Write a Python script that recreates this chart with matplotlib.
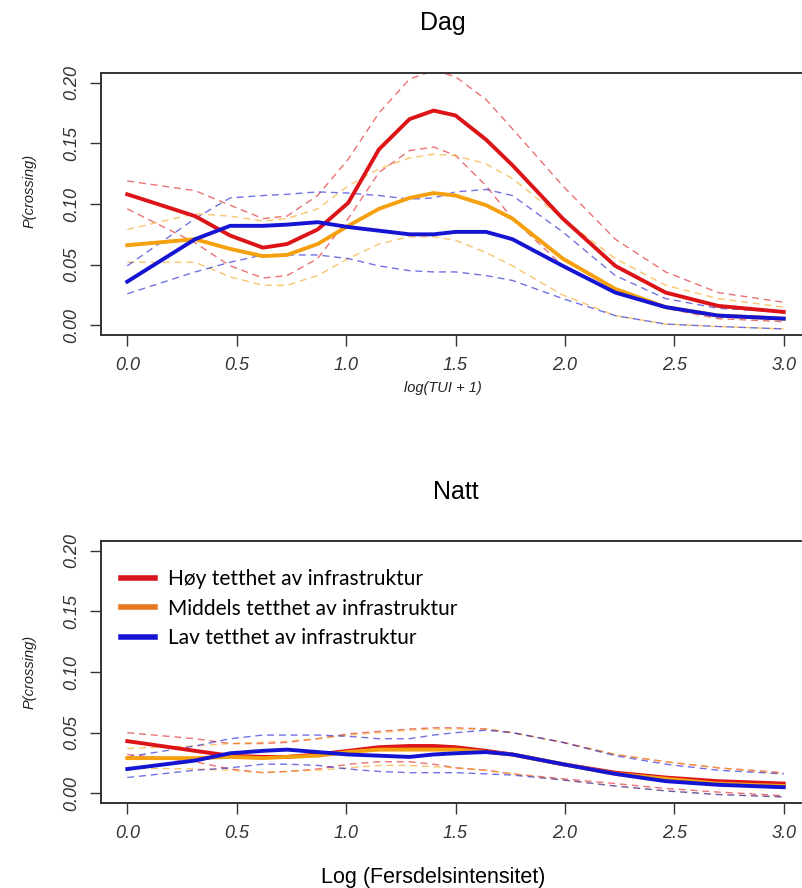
import matplotlib
matplotlib.use("Agg")
import matplotlib.pyplot as plt

plt.rcParams["font.family"] = ["Liberation Sans", "DejaVu Sans"]

# x grid shared by every curve
x = [0.0, 0.31, 0.47, 0.62, 0.73, 0.87, 1.01, 1.15, 1.29, 1.40, 1.50, 1.64, 1.76, 1.99, 2.23, 2.46, 2.70, 3.0]

# Dag (day) panel
dag_hoy = [0.108, 0.090, 0.074, 0.064, 0.067, 0.079, 0.101, 0.145, 0.170, 0.177, 0.173, 0.153, 0.132, 0.088, 0.049, 0.027, 0.016, 0.011]
dag_hoy_hi = [0.119, 0.111, 0.099, 0.088, 0.090, 0.107, 0.137, 0.175, 0.203, 0.210, 0.205, 0.186, 0.162, 0.115, 0.071, 0.044, 0.027, 0.019]
dag_hoy_lo = [0.096, 0.068, 0.049, 0.039, 0.041, 0.055, 0.088, 0.126, 0.144, 0.147, 0.140, 0.115, 0.088, 0.049, 0.027, 0.014, 0.0055, 0.003]

dag_mid = [0.066, 0.071, 0.063, 0.057, 0.058, 0.067, 0.082, 0.096, 0.105, 0.109, 0.107, 0.099, 0.088, 0.055, 0.030, 0.015, 0.008, 0.0055]
dag_mid_hi = [0.079, 0.092, 0.090, 0.086, 0.088, 0.096, 0.115, 0.129, 0.138, 0.141, 0.140, 0.133, 0.121, 0.088, 0.055, 0.033, 0.022, 0.015]
dag_mid_lo = [0.052, 0.052, 0.040, 0.033, 0.033, 0.041, 0.055, 0.067, 0.073, 0.073, 0.070, 0.060, 0.049, 0.025, 0.008, 0.001, -0.001, -0.003]

dag_lav = [0.036, 0.071, 0.082, 0.082, 0.083, 0.085, 0.081, 0.078, 0.075, 0.075, 0.077, 0.077, 0.071, 0.049, 0.027, 0.015, 0.008, 0.0055]
dag_lav_hi = [0.049, 0.088, 0.105, 0.107, 0.108, 0.110, 0.109, 0.107, 0.104, 0.105, 0.110, 0.112, 0.107, 0.077, 0.041, 0.022, 0.014, 0.011]
dag_lav_lo = [0.026, 0.044, 0.052, 0.058, 0.058, 0.058, 0.055, 0.049, 0.045, 0.044, 0.044, 0.041, 0.037, 0.022, 0.008, 0.001, -0.001, -0.003]

# Natt (night) panel
natt_hoy = [0.043, 0.035, 0.031, 0.030, 0.030, 0.032, 0.035, 0.038, 0.039, 0.039, 0.038, 0.035, 0.032, 0.024, 0.017, 0.013, 0.010, 0.008]
natt_hoy_hi = [0.050, 0.045, 0.041, 0.041, 0.042, 0.045, 0.049, 0.051, 0.053, 0.054, 0.054, 0.053, 0.050, 0.042, 0.032, 0.026, 0.021, 0.017]
natt_hoy_lo = [0.032, 0.026, 0.020, 0.017, 0.018, 0.020, 0.024, 0.026, 0.026, 0.024, 0.021, 0.019, 0.016, 0.012, 0.008, 0.004, 0.001, -0.002]

natt_mid = [0.029, 0.029, 0.030, 0.029, 0.030, 0.031, 0.034, 0.036, 0.036, 0.036, 0.036, 0.034, 0.032, 0.024, 0.016, 0.012, 0.008, 0.006]
natt_mid_hi = [0.037, 0.039, 0.041, 0.042, 0.043, 0.045, 0.048, 0.050, 0.052, 0.053, 0.053, 0.053, 0.050, 0.042, 0.032, 0.026, 0.021, 0.016]
natt_mid_lo = [0.021, 0.020, 0.019, 0.017, 0.018, 0.019, 0.021, 0.023, 0.023, 0.022, 0.021, 0.019, 0.016, 0.011, 0.006, 0.002, -0.001, -0.003]

natt_lav = [0.020, 0.027, 0.033, 0.035, 0.036, 0.034, 0.032, 0.031, 0.030, 0.032, 0.033, 0.034, 0.032, 0.024, 0.016, 0.010, 0.007, 0.005]
natt_lav_hi = [0.030, 0.039, 0.045, 0.048, 0.048, 0.048, 0.047, 0.045, 0.045, 0.048, 0.050, 0.052, 0.050, 0.042, 0.031, 0.024, 0.019, 0.016]
natt_lav_lo = [0.013, 0.019, 0.021, 0.024, 0.024, 0.023, 0.020, 0.018, 0.017, 0.017, 0.017, 0.016, 0.015, 0.011, 0.006, 0.002, -0.001, -0.003]

labels = ["Høy tetthet av infrastruktur", "Middels tetthet av infrastruktur", "Lav tetthet av infrastruktur"]
colors = ["#dc1418", "#f5a00f", "#1414d2"]
legend_colors = ["#d8141c", "#e8761e", "#1414d2"]
yticks = [0.00, 0.05, 0.10, 0.15, 0.20]
xticks = [0.0, 0.5, 1.0, 1.5, 2.0, 2.5, 3.0]

W, H = 802, 888
fig = plt.figure(figsize=(W / 100, H / 100), dpi=100)

# axes boxes in pixels: left 101, width 709 (right edge runs off the figure)
AW = 709
ax1 = fig.add_axes([101 / W, 1 - 335 / H, AW / W, 262 / H])
ax2 = fig.add_axes([101 / W, 1 - 803 / H, AW / W, 262 / H])


def draw_panel(ax, series, ylab_y):
    for (mid, hi, lo), col in zip(series, colors):
        ax.plot(x, hi, color=col, lw=1.0, ls=(0, (5, 3.5)), alpha=0.6)
        ax.plot(x, lo, color=col, lw=1.0, ls=(0, (5, 3.5)), alpha=0.6)
    for (mid, hi, lo), col, lab in zip(series, colors, labels):
        ax.plot(x, mid, color=col, lw=2.8, label=lab)
    ax.set_xlim(-0.12, 3.12)
    ax.set_ylim(-0.008, 0.208)
    ax.set_xticks(xticks)
    ax.set_xticklabels([f"{v:.1f}" for v in xticks], fontstyle="italic", fontsize=13, color="#333333")
    ax.set_yticks(yticks)
    ax.set_yticklabels([f"{v:.2f}" for v in yticks], fontstyle="italic", fontsize=13,
                       rotation=90, va="center", color="#333333")
    ax.tick_params(axis="x", length=8, width=1.0, pad=8, colors="#333333")
    ax.tick_params(axis="y", length=8, width=1.0, pad=7, colors="#333333")
    for s in ax.spines.values():
        s.set_linewidth(1.4)
        s.set_color("#333333")
    ax.set_ylabel("P(crossing)", fontstyle="italic", fontsize=10.5, color="#222222")
    ax.yaxis.set_label_coords(-64 / AW, ylab_y)


draw_panel(ax1,
           [(dag_hoy, dag_hoy_hi, dag_hoy_lo),
            (dag_mid, dag_mid_hi, dag_mid_lo),
            (dag_lav, dag_lav_hi, dag_lav_lo)], 0.55)
draw_panel(ax2,
           [(natt_hoy, natt_hoy_hi, natt_hoy_lo),
            (natt_mid, natt_mid_hi, natt_mid_lo),
            (natt_lav, natt_lav_hi, natt_lav_lo)], 0.5)

# titles and x labels placed in pixel positions
fig.text(443 / W, 1 - 23 / H, "Dag", ha="center", va="center", fontsize=18)
fig.text(456 / W, 1 - 492 / H, "Natt", ha="center", va="center", fontsize=18)
fig.text(443 / W, 1 - 388 / H, "log(TUI + 1)", ha="center", va="center", fontsize=10.5,
         fontstyle="italic", color="#222222")
fig.text(433 / W, 1 - 877 / H, "Log (Fersdelsintensitet)", ha="center", va="center", fontsize=15.5)

leg = ax2.legend(loc="upper left", frameon=False, handlelength=1.6, handletextpad=0.65,
                 labelspacing=0.45, borderaxespad=0.0,
                 bbox_to_anchor=(12 / AW, 1 - 20 / 262),
                 prop={"family": "Lato", "size": 15})
for line, c in zip(leg.get_lines(), legend_colors):
    line.set_color(c)
    line.set_linewidth(4)

fig.savefig("out.png", dpi=100)
